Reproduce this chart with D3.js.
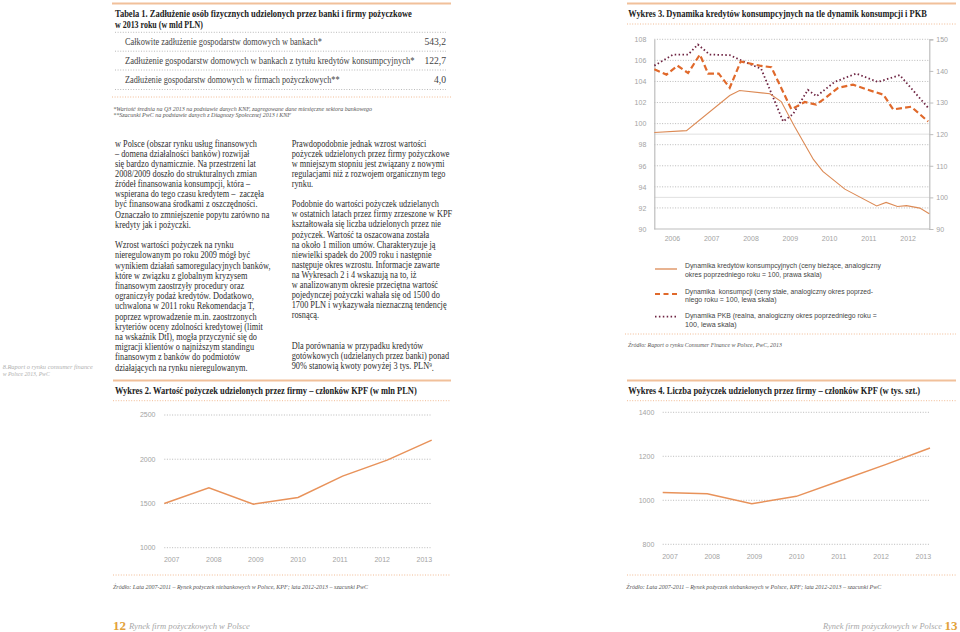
<!DOCTYPE html>
<html><head><meta charset="utf-8">
<script src="https://cdn.jsdelivr.net/npm/d3@7"></script>
<style>
html,body{margin:0;padding:0;background:#fff;}
svg{display:block;}
text{white-space:pre;}
</style></head><body>
<svg id="page" width="960" height="632"></svg>
<script>
// ---------------- DATA ----------------
const tableTitle = ["Tabela 1. Zadłużenie osób fizycznych udzielonych przez banki i firmy pożyczkowe", "w 2013 roku (w mld PLN)"];
const tableLabels = [
  "Całkowite zadłużenie gospodarstw domowych w bankach*",
  "Zadłużenie gospodarstw domowych w bankach z tytułu kredytów konsumpcyjnych*",
  "Zadłużenie gospodarstw domowych w firmach pożyczkowych**"
];
const tableValues = ["543,2", "122,7", "4,0"];
const footnotes = [
  "*Wartość średnia na Q3 2013 na podstawie danych KNF, zagregowane dane miesięczne sektora bankowego",
  "**Szacunki PwC na podstawie danych z Diagnozy Społecznej 2013 i KNF"
];

const leftParagraphs = [
  ["w Polsce (obszar rynku usług finansowych",
   "– domena działalności banków) rozwijał",
   "się bardzo dynamicznie. Na przestrzeni lat",
   "2008/2009 doszło do strukturalnych zmian",
   "źródeł finansowania konsumpcji, która –",
   "wspierana do tego czasu kredytem –  zaczęła",
   "być finansowana środkami z oszczędności.",
   "Oznaczało to zmniejszenie popytu zarówno na",
   "kredyty jak i pożyczki."],
  ["Wzrost wartości pożyczek na rynku",
   "nieregulowanym po roku 2009 mógł być",
   "wynikiem działań samoregulacyjnych banków,",
   "które w związku z globalnym kryzysem",
   "finansowym zaostrzyły procedury oraz",
   "ograniczyły podaż kredytów. Dodatkowo,",
   "uchwalona w 2011 roku Rekomendacja T,",
   "poprzez wprowadzenie m.in. zaostrzonych",
   "kryteriów oceny zdolności kredytowej (limit",
   "na wskaźnik DtI), mogła przyczynić się do",
   "migracji klientów o najniższym standingu",
   "finansowym z banków do podmiotów",
   "działających na rynku nieregulowanym."]
];
const rightParagraphs = [
  ["Prawdopodobnie jednak wzrost wartości",
   "pożyczek udzielonych przez firmy pożyczkowe",
   "w mniejszym stopniu jest związany z nowymi",
   "regulacjami niż z rozwojem organicznym tego",
   "rynku."],
  ["Podobnie do wartości pożyczek udzielanych",
   "w ostatnich latach przez firmy zrzeszone w KPF",
   "kształtowała się liczba udzielonych przez nie",
   "pożyczek. Wartość ta oszacowana została",
   "na około 1 milion umów. Charakteryzuje ją",
   "niewielki spadek do 2009 roku i następnie",
   "następuje okres wzrostu. Informacje zawarte",
   "na Wykresach 2 i 4 wskazują na to, iż",
   "w analizowanym okresie przeciętna wartość",
   "pojedynczej pożyczki wahała się od 1500 do",
   "1700 PLN i wykazywała nieznaczną tendencję",
   "rosnącą."],
  ["Dla porównania w przypadku kredytów",
   "gotówkowych (udzielanych przez banki) ponad",
   "90% stanowią kwoty powyżej 3 tys. PLN"]
];
const sideNote = ["8.Raport o rynku consumer finance", "w Polsce 2013, PwC"];

// Wykres 2
const w2Title = "Wykres 2. Wartość pożyczek udzielonych przez firmy – członków KPF (w mln PLN)";
const w2Years = ["2007", "2008", "2009", "2010", "2011", "2012", "2013"];
const w2Values = [1500, 1676, 1492, 1568, 1809, 1990, 2216];
const w2Ticks = [1000, 1500, 2000, 2500];
const w2Source = "Źródło: Lata 2007-2011 – Rynek pożyczek niebankowych w Polsce, KPF; lata 2012-2013 – szacunki PwC";

// Wykres 4
const w4Title = "Wykres 4. Liczba pożyczek udzielonych przez firmy – członków KPF (w tys. szt.)";
const w4Years = ["2007", "2008", "2009", "2010", "2011", "2012", "2013"];
const w4Values = [1036, 1030, 984, 1018, 1090, 1162, 1238];
const w4Ticks = [800, 1000, 1200, 1400];
const w4Source = "Źródło: Lata 2007-2011 – Rynek pożyczek niebankowych w Polsce, KPF; lata 2012-2013 – szacunki PwC";

// Wykres 3
const w3Title = "Wykres 3. Dynamika kredytów konsumpcyjnych na tle dynamik konsumpcji i PKB";
const w3YearLabels = [2006, 2007, 2008, 2009, 2010, 2011, 2012];
const w3LeftTicks = [90, 92, 94, 96, 98, 100, 102, 104, 106, 108];
const w3RightTicks = [90, 100, 110, 120, 130, 140, 150];
const w3RightGrid = [100, 120];
// credit dynamics (right scale), time in years
const creditT = [2006.00, 2006.82, 2007.92, 2008.17, 2008.94, 2009.23, 2009.57, 2010.05, 2010.29, 2010.85, 2011.66, 2011.90, 2012.19, 2012.42, 2012.76, 2013.00];
const creditV = [120.5, 121.1, 132.2, 133.8, 132.8, 130.3, 122.4, 112.0, 108.2, 102.6, 97.3, 98.4, 97.1, 97.4, 96.6, 94.8];
// consumption dynamics (left scale)
const consT = [2006.00, 2006.31, 2006.59, 2006.86, 2007.16, 2007.37, 2007.64, 2007.92, 2008.20, 2008.43, 2008.68, 2008.98, 2009.49, 2009.83, 2010.12, 2010.38, 2010.68, 2011.06, 2011.40, 2011.83, 2012.08, 2012.54, 2012.97];
const consV = [105.15, 104.65, 105.5, 104.8, 106.55, 104.75, 104.75, 103.4, 105.9, 105.7, 105.5, 105.35, 101.35, 102.05, 101.8, 102.5, 103.4, 103.7, 103.25, 102.75, 101.35, 101.6, 100.2];
// GDP dynamics (left scale)
const gdpT = [2006.00, 2006.48, 2006.86, 2007.11, 2007.41, 2007.92, 2008.21, 2008.72, 2009.28, 2009.53, 2009.91, 2010.13, 2010.59, 2011.14, 2011.69, 2012.25, 2012.97];
const gdpV = [105.5, 106.55, 106.55, 107.5, 106.55, 106.5, 106.0, 105.2, 100.2, 100.9, 103.2, 102.6, 103.95, 104.75, 103.95, 104.6, 101.5];
const w3Legend = [
  ["Dynamika kredytów konsumpcyjnych (ceny bieżące, analogiczny", "okres poprzedniego roku = 100, prawa skala)"],
  ["Dynamika  konsumpcji (ceny stałe, analogiczny okres poprzed-", "niego roku = 100, lewa skala)"],
  ["Dynamika PKB (realna, analogiczny okres poprzedniego roku =", "100, lewa skala)"]
];
const w3Source = "Źródło: Raport o rynku Consumer Finance w Polsce, PwC, 2013";
const footerTitle = "Rynek firm pożyczkowych w Polsce";
const pageNumbers = ["12", "13"];

// ---------------- STYLE ----------------
const SERIF = '"Liberation Serif","DejaVu Serif",serif';
const SANS = '"Liberation Sans",Arial,sans-serif';
const ORANGE_RULE = "#f1c09a";
const ORANGE_DOT = "#eeaa78";
const GRID = "#a8a8a8";
const AXISTXT = "#a3a3a3";
const LINE_OR = "#e8925a";
const CREDIT = "#dc8a55";
const CONS = "#e0692b";
const GDP = "#6e2442";

const svg = d3.select("#page");

// text helper: if o.w is given, the text is fitted to that width by a horizontal scale
function text(x, y, s, o = {}) {
  const t = svg.append("text")
    .attr("dy", o.dy || "0.35em")
    .attr("font-family", o.family || SERIF)
    .attr("font-size", o.size || 9)
    .attr("font-weight", o.weight || "normal")
    .attr("font-style", o.style || "normal")
    .attr("fill", o.fill || "#333")
    .attr("text-anchor", o.anchor || "start")
    .text(s);
  if (o.w) {
    const len = t.node().getComputedTextLength();
    t.attr("transform", `translate(${x},${y}) scale(${o.w / len},1)`);
  } else {
    t.attr("x", x).attr("y", y);
  }
  return t;
}
function hline(x1, x2, y, color, width, dash) {
  const l = svg.append("line").attr("x1", x1).attr("x2", x2).attr("y1", y).attr("y2", y)
    .attr("stroke", color).attr("stroke-width", width);
  if (dash) l.attr("stroke-dasharray", dash);
  return l;
}

// ---------------- TABLE 1 ----------------
hline(112, 451, 3.5, ORANGE_RULE, 2);
text(115, 13.8, tableTitle[0], {weight: "bold", size: 10.5, fill: "#222", w: 297});
text(115, 24.5, tableTitle[1], {weight: "bold", size: 10.5, fill: "#222", w: 88});
hline(115, 446, 32.3, GRID, 0.8, "1,1.6");
const rowY = [41.7, 60.5, 80];
const rowW = [197, 290, 215];
tableLabels.forEach((s, i) => {
  text(125, rowY[i], s, {size: 9.6, fill: "#444", w: rowW[i]});
  text(446, rowY[i], tableValues[i], {size: 9.6, fill: "#444", anchor: "end"});
  hline(115, 446, rowY[i] + 9.5, GRID, 0.8, "1,1.6");
});
hline(112, 451, 97, ORANGE_DOT, 0.8, "1,1.6");
text(113.3, 108.3, footnotes[0], {size: 6.4, style: "italic", fill: "#555", w: 259});
text(113.3, 114.5, footnotes[1], {size: 6.4, style: "italic", fill: "#555", w: 178});

// ---------------- BODY TEXT ----------------
function paragraphBlock(x, paras, starts, lh) {
  const nodes = [];
  paras.forEach((lines, pi) => {
    lines.forEach((s, li) => {
      const t = svg.append("text")
        .attr("font-family", SERIF).attr("font-size", 9.4).attr("fill", "#2e2e2e")
        .attr("dy", "0.35em").text(s);
      nodes.push({t, x, y: starts[pi] + li * lh[pi]});
    });
  });
  return nodes;
}
const leftNodes = paragraphBlock(115, leftParagraphs, [143.3, 245], [10.13, 10.19]);
const rightNodes = paragraphBlock(291.7, rightParagraphs, [143.3, 204, 346], [10.0, 10.09, 10.0]);
const lastR = rightNodes[rightNodes.length - 1].t;
lastR.append("tspan").attr("font-size", 6).attr("dy", "-0.45em").text("9");
lastR.append("tspan").attr("dy", "0.45em").text(".");
const refLen = leftNodes[0].t.node().getComputedTextLength();
const sx = 141.7 / refLen;
leftNodes.concat(rightNodes).forEach(n => n.t.attr("transform", `translate(${n.x},${n.y}) scale(${sx},1)`));

// side note
text(2.7, 366.5, sideNote[0], {size: 6.2, style: "italic", fill: "#b0b0b0", w: 90});
text(2.7, 374.3, sideNote[1], {size: 6.2, style: "italic", fill: "#b0b0b0", w: 47});

// ---------------- SIMPLE LINE CHART (Wykres 2 & 4) ----------------
function simpleChart(cfg) {
  const y = d3.scaleLinear().domain(cfg.domain).range(cfg.yRange);
  const xLine = d3.scalePoint().domain(cfg.years).range(cfg.lineRange);
  const xLab = d3.scalePoint().domain(cfg.years).range(cfg.labelRange);
  hline(cfg.ruleX[0], cfg.ruleX[1], 380.5, ORANGE_RULE, 2);
  text(cfg.titleX, 390.7, cfg.title, {weight: "bold", size: 10.5, fill: "#222", w: cfg.titleW});
  hline(cfg.ruleX[0], cfg.ruleX[1], 400.7, ORANGE_DOT, 0.8, "1,1.6");
  const g = svg.append("g");
  g.selectAll("line.grid").data(cfg.ticks).join("line")
    .attr("x1", cfg.lineRange[0]).attr("x2", cfg.lineRange[1])
    .attr("y1", d => y(d)).attr("y2", d => y(d))
    .attr("stroke", GRID).attr("stroke-width", 0.8).attr("stroke-dasharray", "1,1.6");
  g.selectAll("text.yl").data(cfg.ticks).join("text")
    .attr("x", cfg.yLabelX).attr("y", d => y(d)).attr("dy", "0.35em")
    .attr("text-anchor", "end").attr("font-family", SANS).attr("font-size", 7)
    .attr("fill", AXISTXT).text(d => d);
  g.selectAll("text.xl").data(cfg.years).join("text")
    .attr("x", d => xLab(d)).attr("y", cfg.xLabelY).attr("dy", "0.35em")
    .attr("text-anchor", "middle").attr("font-family", SANS).attr("font-size", 7)
    .attr("fill", AXISTXT).text(d => d);
  g.append("path").datum(cfg.values)
    .attr("d", d3.line().x((d, i) => xLine(cfg.years[i])).y(d => y(d)))
    .attr("fill", "none").attr("stroke", LINE_OR).attr("stroke-width", 1.5);
  hline(cfg.ruleX[0], cfg.ruleX[1], 575, ORANGE_DOT, 0.8, "1,1.6");
  text(cfg.titleX - 2, 587, cfg.source, {size: 6.4, style: "italic", fill: "#555", w: 255});
}
simpleChart({
  title: w2Title, titleX: 115, titleW: 302, ruleX: [113, 451],
  years: w2Years, values: w2Values, ticks: w2Ticks, domain: [1000, 2500], yRange: [547.7, 415],
  lineRange: [164.3, 431.7], labelRange: [171.7, 424.3], yLabelX: 155.5, xLabelY: 560,
  source: w2Source
});
simpleChart({
  title: w4Title, titleX: 628.3, titleW: 292, ruleX: [627, 956],
  years: w4Years, values: w4Values, ticks: w4Ticks, domain: [800, 1400], yRange: [544.3, 412.3],
  lineRange: [662.7, 930], labelRange: [670, 923.3], yLabelX: 654.3, xLabelY: 556.7,
  source: w4Source
});

// ---------------- WYKRES 3 ----------------
hline(627, 956, 3.5, ORANGE_RULE, 2);
text(628.3, 13.8, w3Title, {weight: "bold", size: 10.5, fill: "#222", w: 299});
hline(627, 956, 24, ORANGE_DOT, 0.8, "1,1.6");
const X0 = 654.3, X1 = 929.3, YT = 39.3, YB = 229;
const x3 = d3.scaleLinear().domain([2006, 2013]).range([X0, X1]);
const yL = d3.scaleLinear().domain([90, 108]).range([YB, YT]);
const yR = d3.scaleLinear().domain([90, 150]).range([YB, YT]);
const g3 = svg.append("g");
g3.selectAll("line.rg").data(w3RightGrid).join("line")
  .attr("x1", X0).attr("x2", X1).attr("y1", d => yR(d)).attr("y2", d => yR(d))
  .attr("stroke", "#d8d8d8").attr("stroke-width", 0.8);
g3.selectAll("line.lg").data(w3LeftTicks.filter(d => d > 90)).join("line")
  .attr("x1", X0).attr("x2", X1).attr("y1", d => yL(d)).attr("y2", d => yL(d))
  .attr("stroke", GRID).attr("stroke-width", 0.8).attr("stroke-dasharray", "1,1.6");
const leftAxis = g3.append("g").attr("transform", `translate(${X0},0)`)
  .call(d3.axisLeft(yL).tickValues(w3LeftTicks).tickSize(0).tickPadding(8));
const rightAxis = g3.append("g").attr("transform", `translate(${X1},0)`)
  .call(d3.axisRight(yR).tickValues(w3RightTicks).tickSize(4).tickPadding(3));
[leftAxis, rightAxis].forEach(a => {
  a.select(".domain").attr("stroke", "#bdbdbd").attr("stroke-width", 1.2);
  a.selectAll(".tick line").attr("stroke", "#bdbdbd");
  a.selectAll("text").attr("font-family", SANS).attr("font-size", 7).attr("fill", AXISTXT);
});
hline(X0, X1, YB, "#bdbdbd", 1.2);
g3.selectAll("text.yr").data(w3YearLabels).join("text")
  .attr("x", d => x3(d + 0.5) - 1.5).attr("y", 239).attr("dy", "0.35em")
  .attr("text-anchor", "middle").attr("font-family", SANS).attr("font-size", 7)
  .attr("fill", AXISTXT).text(d => d);
const lineGen = (T, yScale) => d3.line().x((d, i) => x3(T[i])).y(d => yScale(d));
g3.append("path").datum(gdpV).attr("d", lineGen(gdpT, yL))
  .attr("fill", "none").attr("stroke", GDP).attr("stroke-width", 1.8).attr("stroke-dasharray", "1.5,2.4");
g3.append("path").datum(consV).attr("d", lineGen(consT, yL))
  .attr("fill", "none").attr("stroke", CONS).attr("stroke-width", 2.2).attr("stroke-dasharray", "6,3.2");
g3.append("path").datum(creditV).attr("d", lineGen(creditT, yR))
  .attr("fill", "none").attr("stroke", CREDIT).attr("stroke-width", 1.1);
// legend
const legY = [[265.7, 274.3], [291, 299.4], [315.7, 324]];
const legW = [[196, 136.7], [188.3, 91.7], [191.7, 51.7]];
const legSample = [{c: CREDIT, w: 1.3, d: null, y: 269}, {c: CONS, w: 2.2, d: "5,3.5", y: 294}, {c: GDP, w: 1.8, d: "1.5,2.4", y: 316.7}];
w3Legend.forEach((lines, i) => {
  const s = legSample[i];
  hline(655, 677, s.y, s.c, s.w, s.d);
  lines.forEach((l, j) => text(685, legY[i][j], l, {family: SANS, size: 7.6, fill: "#444", w: legW[i][j]}));
});
hline(625, 956, 334, ORANGE_DOT, 0.8, "1,1.6");
text(628, 344.5, w3Source, {size: 6.4, style: "italic", fill: "#555", w: 154});

// ---------------- FOOTER ----------------
text(113, 625.5, pageNumbers[0], {weight: "bold", size: 12.5, fill: "#e3a23a", w: 13});
text(129, 625.5, footerTitle, {size: 8.6, style: "italic", fill: "#a8a8a8", w: 121});
text(823, 625.5, footerTitle, {size: 8.6, style: "italic", fill: "#a8a8a8", w: 119});
text(944.5, 625.5, pageNumbers[1], {weight: "bold", size: 12.5, fill: "#e3a23a", w: 13});
</script>
</body></html>
